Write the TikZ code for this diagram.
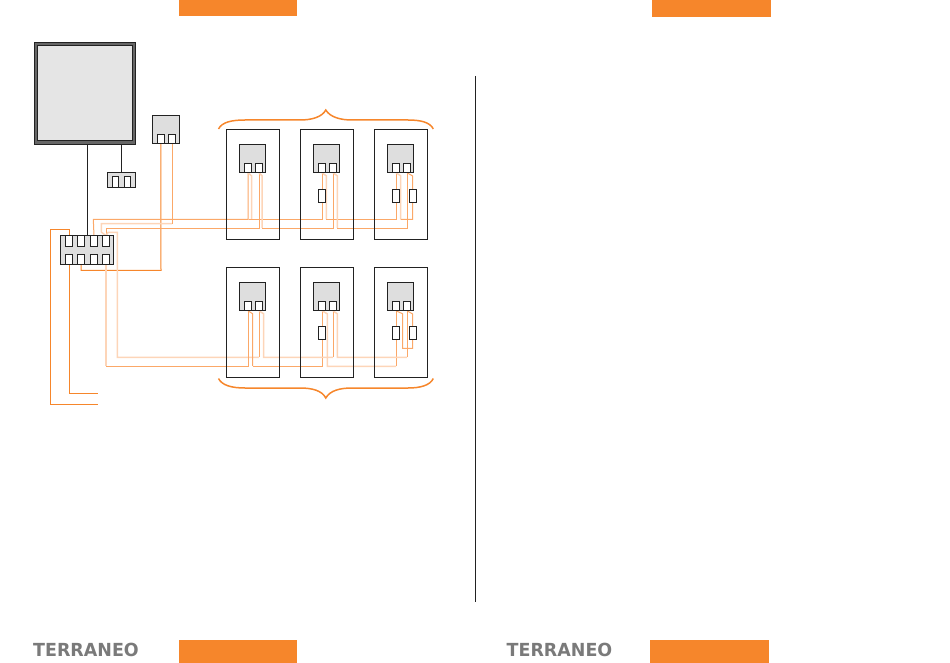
\documentclass[tikz,border=0pt]{standalone}
\usepackage{fontspec}
\setmainfont{DejaVu Sans}
\usetikzlibrary{backgrounds}
\definecolor{brandorange}{HTML}{F6862B}
\definecolor{wirelight}{HTML}{FBA868}
\definecolor{wirepale}{HTML}{FDD5B8}
\definecolor{inkline}{HTML}{222222}
\tikzset{
	unitbox/.style={draw=inkline, line width=1pt, minimum width=52.6pt, minimum height=109.4pt, inner sep=0pt, outer sep=0pt},
	blockbox/.style={draw=inkline, fill=black!13, line width=1pt, minimum width=26.2pt, minimum height=28.2pt, inner sep=0pt, outer sep=0pt},
	portbox/.style={draw=inkline, fill=white, line width=1pt, minimum width=6.4pt, minimum height=9.6pt, inner sep=0pt, outer sep=0pt},
	relaybox/.style={draw=inkline, fill=white, line width=1pt, minimum width=6.4pt, minimum height=12.4pt, inner sep=0pt, outer sep=0pt},
	wirefull/.style={draw=brandorange, line width=1pt},
	wiresoft/.style={draw=wirelight, line width=1pt},
	wirefaint/.style={draw=wirepale, line width=1.5pt},
	bracket/.style={draw=brandorange, line width=1.5pt},
	logotext/.style={text=black!52, font=\bfseries\fontsize{18}{18}\selectfont, xscale=0.97, inner sep=0pt, outer sep=0pt}
}

\begin{document}
\begin{tikzpicture}[x=1pt, y=-1pt]
	\useasboundingbox (0,0) rectangle (950,663);

	\fill[brandorange] (179,0) rectangle (297,16);
	\fill[brandorange] (652,0) rectangle (771,17);
	\fill[brandorange] (179,640) rectangle (297,663);
	\fill[brandorange] (650,640) rectangle (769,663);
	\draw[inkline, line width=1pt] (475.5,76) -- (475.5,602);
	\node[logotext] (logoL) at (86,649.5) {TERRANEO};
	\node[logotext] (logoR) at (559.5,649.5) {TERRANEO};

	\node[draw=inkline, fill=black!60, line width=1pt, minimum width=100.4pt, minimum height=101.4pt, outer sep=0pt] (panelFrame) at (85,93.5) {};
	\node[draw=inkline, fill=black!10, line width=1pt, minimum width=94.4pt, minimum height=95pt, outer sep=0pt] (panel) at (85,93.3) {};

	\node[blockbox, minimum height=28pt] (feed) at (166,129.8) {};
	\node[portbox] (feedA) at (160.8,139) {};
	\node[portbox] (feedB) at (172,139) {};

	\node[blockbox, minimum width=27.4pt, minimum height=14.4pt] (socket) at (121.5,180) {};
	\node[portbox, minimum width=6pt, minimum height=10.4pt] (socketA) at (115.8,182) {};
	\node[portbox, minimum width=6pt, minimum height=10.4pt] (socketB) at (127,182) {};

	\node[blockbox, minimum width=52.4pt, minimum height=28.4pt] (bus) at (87,250) {};
	\node[portbox, minimum height=10.4pt] (busT1) at (69,241) {};
	\node[portbox, minimum height=10.4pt] (busT2) at (81,241) {};
	\node[portbox, minimum height=10.4pt] (busT3) at (94,241) {};
	\node[portbox, minimum height=10.4pt] (busT4) at (106,241) {};
	\node[portbox] (busB1) at (69,259.5) {};
	\node[portbox] (busB2) at (81,259.5) {};
	\node[portbox] (busB3) at (94,259.5) {};
	\node[portbox] (busB4) at (106,259.5) {};

	\node[unitbox] (unitA) at (252.8,184.3) {};
	\node[unitbox] (unitB) at (326.8,184.3) {};
	\node[unitbox] (unitC) at (400.8,184.3) {};
	\node[unitbox] (unitD) at (252.8,322.5) {};
	\node[unitbox] (unitE) at (326.8,322.5) {};
	\node[unitbox] (unitF) at (400.8,322.5) {};

	\node[blockbox] (blockA) at (252.8,158.8) {};
	\node[portbox] (portA1) at (248,168) {};
	\node[portbox] (portA2) at (259,168) {};
	\node[blockbox] (blockB) at (326.8,158.8) {};
	\node[portbox] (portB1) at (322,168) {};
	\node[portbox] (portB2) at (333,168) {};
	\node[blockbox] (blockC) at (400.8,158.8) {};
	\node[portbox] (portC1) at (396,168) {};
	\node[portbox] (portC2) at (407,168) {};
	\node[blockbox] (blockD) at (252.8,296.8) {};
	\node[portbox] (portD1) at (248,306) {};
	\node[portbox] (portD2) at (259,306) {};
	\node[blockbox] (blockE) at (326.8,296.8) {};
	\node[portbox] (portE1) at (322,306) {};
	\node[portbox] (portE2) at (333,306) {};
	\node[blockbox] (blockF) at (400.8,296.8) {};
	\node[portbox] (portF1) at (396,306) {};
	\node[portbox] (portF2) at (407,306) {};

	\node[relaybox] (relayB) at (322,196) {};
	\node[relaybox] (relayC1) at (396,196) {};
	\node[relaybox] (relayC2) at (413,196) {};
	\node[relaybox] (relayE) at (322,333) {};
	\node[relaybox] (relayF1) at (396,333) {};
	\node[relaybox] (relayF2) at (413,333) {};

	\draw[inkline, line width=1pt] (panelFrame.south -| bus.north) -- (bus.north);
	\draw[inkline, line width=1pt] (panelFrame.south -| socket.north) -- (socket.north);

	\coordinate (railA) at (93.3,219.3);
	\coordinate (railB) at (106,228.3);
	\coordinate (railC) at (117.3,357.3);
	\coordinate (railD) at (106,366.3);
	\coordinate (endA) at (98,393.3);
	\coordinate (endB) at (98,404.3);

	\begin{pgfonlayer}{background}
		\draw[wirefull] (busT1.north) -- ++(0,-6.5) -| (50.3,404.3) -- (endB);
		\draw[wirefull] (busB1.south) |- (endA);
		\draw[wirefull] (busB2.south) |- (161,270.3) -- (feedA.south);

		\draw[wirefaint] (172,223.7) -- (101.3,223.7) -- (101.3,232) -- (busT4.north);
		\draw[wiresoft] (feedB.south) -- (172,223.7);
		\draw[wiresoft] (busT3.north) -- (railA) -- (railA -| portA1.south) -- (portA1.south);
		\draw[wiresoft] (busT4.north) -- (railB) -- (railB -| portA2.south) -- (portA2.south);

		\draw[wirefaint] (portA1.south) -- ++(3.5,3) -- ++(0,43.3);
		\draw[wiresoft] (249,219.3) -- (railA -| portB1.south) -- (portB1.south);
		\draw[wirefaint] (portB1.south) -- ++(4.3,3) -- ++(0,43.3);
		\draw[wiresoft] (326.3,219.3) -- (railA -| portC1.south) -- (portC1.south);
		\draw[wirefaint] (portC1.south) -- ++(4.7,3) -- ++(0,43.3);
		\draw[wiresoft] (400.7,219.3) -| (412.7,176) -- (portC2.south);
		\draw[wirefaint] (portA2.south) -- ++(3,3) -- ++(0,52);
		\draw[wiresoft] (262,228.3) -- (railB -| portB2.south) -- (portB2.south);
		\draw[wirefaint] (portB2.south) -- ++(4.3,3) -- ++(0,52);
		\draw[wiresoft] (337.3,228.3) -- (railB -| portC2.south) -- (portC2.south);

		\draw[wirefaint] (busT4.north) -- (108,232.3) -| (railC) -- (railC -| portD2.south);
		\draw[wiresoft] (portD2.south) -- (railC -| portD2.south);
		\draw[wirefaint] (busB4.south) -- (railD);
		\draw[wiresoft] (railD) -- (railD -| portD1.south) -- (portD1.south);

		\draw[wiresoft] (portD1.south) -- ++(4.7,3) -- ++(0,52);
		\draw[wiresoft] (252.7,366.3) -- (railD -| portE1.south) -- (portE1.south);
		\draw[wirefaint] (portE1.south) -- ++(5.3,3) |- (railD -| portF1.south);
		\draw[wiresoft] (portF1.south) -- (railD -| portF1.south);
		\draw[wirefaint] (portD2.south) -- ++(4.7,3) |- (railC -| portE2.south);
		\draw[wiresoft] (portE2.south) -- (railC -| portE2.south);
		\draw[wirefaint] (portE2.south) -- ++(4.3,3) |- (railC -| portF2.south);
		\draw[wiresoft] (portF2.south) -- (railC -| portF2.south);
		\draw[wiresoft] (portF1.south) -- ++(6.7,3) |- (412.7,348.3) -- (412.7,314) -- (portF2.south);
	\end{pgfonlayer}

	\draw[bracket] (218.5,129) .. controls (222,122) and (232,120) .. (245,120) -- (300,120) .. controls (312,120) and (322,117) .. (325.8,110) .. controls (330,117) and (340,120) .. (352,120) -- (408,120) .. controls (420,120) and (430,122) .. (433.3,129);
	\draw[bracket] (218.5,378.5) .. controls (222,385.5) and (232,388) .. (245,388) -- (300,388) .. controls (312,388) and (322,390.5) .. (325.8,398) .. controls (330,390.5) and (340,388) .. (352,388) -- (408,388) .. controls (420,388) and (430,385.5) .. (433.3,378.5);
\end{tikzpicture}
\end{document}
